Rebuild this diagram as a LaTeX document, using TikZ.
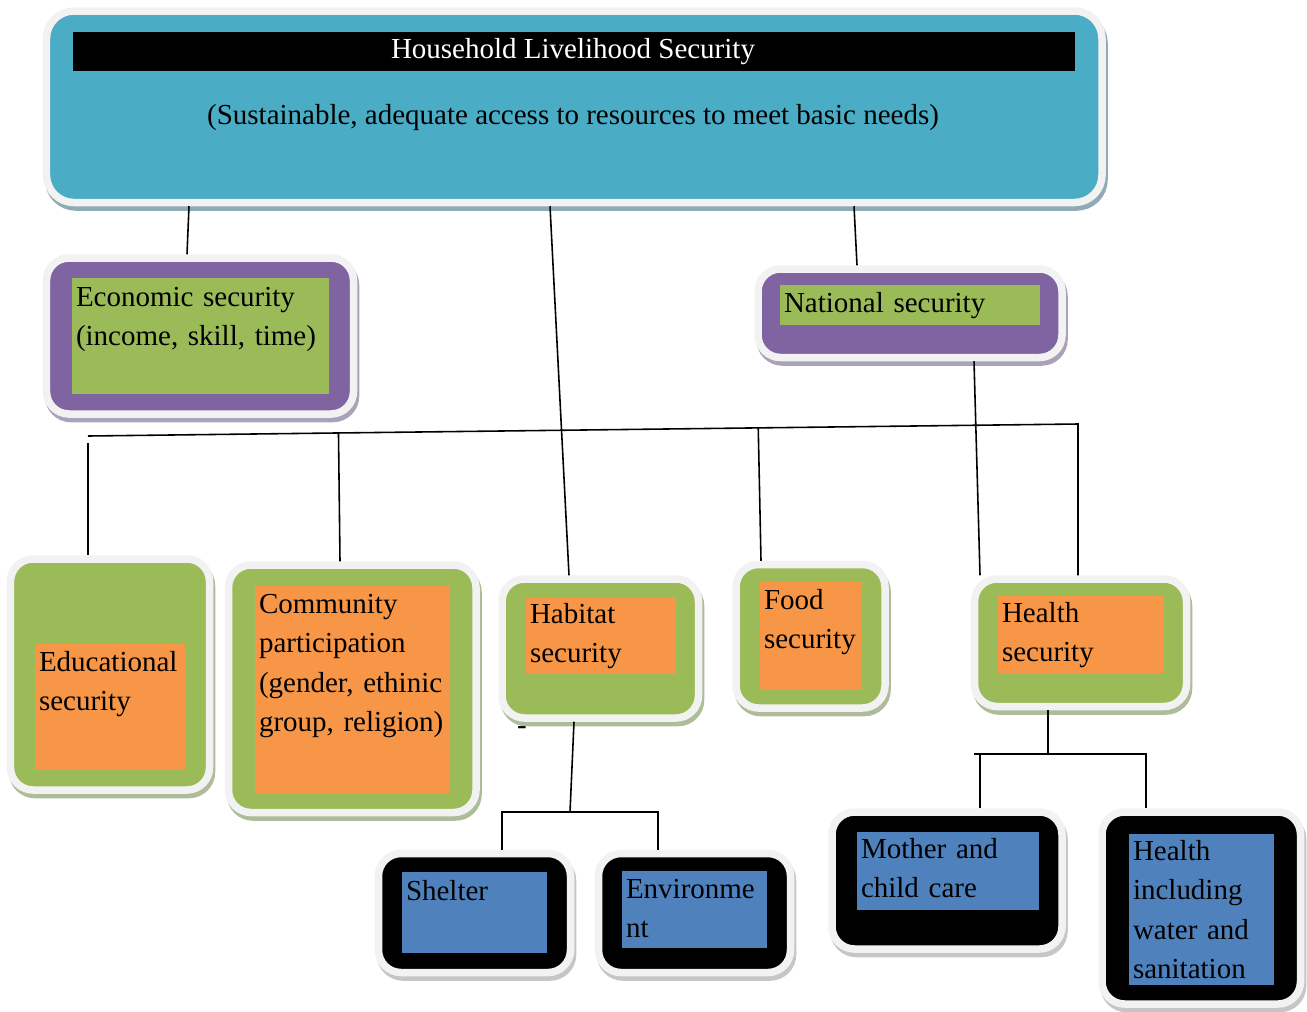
\documentclass[tikz,border=0pt]{standalone}
\usepackage{fontspec}
\setmainfont{Liberation Serif}
\usetikzlibrary{calc,fit}

\definecolor{sky}{HTML}{4BACC6}
\definecolor{purp}{HTML}{8064A2}
\definecolor{leaf}{HTML}{9BBB59}
\definecolor{tang}{HTML}{F79646}
\definecolor{steel}{HTML}{4F81BD}
\definecolor{shell}{HTML}{F2F2F2}
\definecolor{skyshade}{HTML}{8EABB6}
\definecolor{purpshade}{HTML}{A9A2B9}
\definecolor{leafshade}{HTML}{ADBD99}
\definecolor{inkshade}{HTML}{C6C6C6}

\tikzset{
  shellbox/.style={draw=shell, line width=0.15cm, rounded corners=0.45cm, inner sep=0pt,
    preaction={draw=#1, fill=#1, line width=0.15cm, transform canvas={xshift=0.04cm, yshift=-0.09cm}}},
  pad/.style={inner sep=0pt},
  txt/.style={anchor=base west, inner sep=0pt, text width=6cm, align=left},
  link/.style={line width=0.9pt},
  every node/.style={font=\fontsize{16.5}{22.3}\selectfont}
}

\begin{document}
\begin{tikzpicture}[x=0.02cm, y=-0.02cm]
\useasboundingbox (0,0) rectangle (1307,1011);

% household box
\node[shellbox=skyshade, fill=sky, rounded corners=0.55cm, fit={(46.5,11) (1102,202.5)}] (top) {};
\node[pad, fill=black, fit={(73,32) (1075,71)}] (titlebar) {};
\node[anchor=base, text=white] (title) at (573,58) {Household Livelihood Security};
\node[anchor=base] (aim) at (573,124) {(Sustainable, adequate access to resources to meet basic needs)};

% second row
\node[shellbox=purpshade, fill=purp, fit={(46.5,258) (353.5,414)}] (econ) {};
\node[pad, fill=leaf, fit={(72,278) (329,394)}] (econpad) {};
\node[txt] (econtxt) at ($(econpad.north west)+(4,29)$) {Economic security\\(income, skill, time)};

\node[shellbox=purpshade, fill=purp, fit={(758,269) (1062,357.5)}] (national) {};
\node[pad, fill=leaf, fit={(780,285) (1040,325)}] (nationalpad) {};
\node[txt] (nationaltxt) at ($(nationalpad.north west)+(4,28)$) {National security};

% third row
\node[shellbox=leafshade, fill=leaf, fit={(10.5,559) (209.5,790)}] (edu) {};
\node[pad, fill=tang, fit={(35,644) (185,770)}] (edupad) {};
\node[txt] (edutxt) at ($(edupad.north west)+(4,28)$) {Educational\\security};

\node[shellbox=leafshade, fill=leaf, fit={(228.5,565) (476,812.5)}] (comm) {};
\node[pad, fill=tang, fit={(255,586) (450,793)}] (commpad) {};
\node[txt] (commtxt) at ($(commpad.north west)+(4,28)$) {Community\\participation\\(gender, ethinic\\group, religion)};

\node[shellbox=leafshade, fill=leaf, fit={(502,579) (698.5,718)}] (habitat) {};
\node[pad, fill=tang, fit={(526,597) (676,674)}] (habitatpad) {};
\node[txt] (habitattxt) at ($(habitatpad.north west)+(4,27)$) {Habitat\\security};
\node (dash) at (522,731) {-};

\node[shellbox=leafshade, fill=leaf, fit={(736,564.5) (885,708)}] (food) {};
\node[pad, fill=tang, fit={(760,582) (862,690)}] (foodpad) {};
\node[txt] (foodtxt) at ($(foodpad.north west)+(4,28)$) {Food\\security};

\node[shellbox=leafshade, fill=leaf, fit={(974.5,579) (1186.5,706.5)}] (health) {};
\node[pad, fill=tang, fit={(998,596) (1164,673)}] (healthpad) {};
\node[txt] (healthtxt) at ($(healthpad.north west)+(4,27)$) {Health\\security};

% bottom row
\node[shellbox=inkshade, fill=black, fit={(378.5,853.5) (570.5,972.5)}] (shelter) {};
\node[pad, fill=steel, fit={(402,872) (547,953)}] (shelterpad) {};
\node[txt] (sheltertxt) at ($(shelterpad.north west)+(4,29)$) {Shelter};

\node[shellbox=inkshade, fill=black, fit={(598.5,853.5) (790.5,972.5)}] (env) {};
\node[pad, fill=steel, fit={(622,871) (767,948)}] (envpad) {};
\node[txt] (envtxt) at ($(envpad.north west)+(4,28)$) {Environme\\nt};

\node[shellbox=inkshade, fill=black, fit={(832,812) (1062,949)}] (mother) {};
\node[pad, fill=steel, fit={(857,832) (1039,910)}] (motherpad) {};
\node[txt] (mothertxt) at ($(motherpad.north west)+(4,27)$) {Mother and\\child care};

\node[shellbox=inkshade, fill=black, fit={(1102,812) (1300.5,1004)}] (healthinc) {};
\node[pad, fill=steel, fit={(1129,834) (1274,985)}] (healthincpad) {};
\node[txt] (healthinctxt) at ($(healthincpad.north west)+(4,27)$) {Health\\including\\water and\\sanitation};

% connectors
\draw[link] (top.south -| 189,0) -- (econ.north -| 187,0);
\draw[link] (top.south -| 550,0) -- (habitat.north -| 569,0);
\draw[link] (top.south -| 854,0) -- (national.north -| 857,0);
\draw[link] (national.south -| 974,0) -- (health.north -| 980,0);

\coordinate (busl) at (88,436);
\coordinate (busr) at (1078,424);
\draw[link] (busl) -- (busr) -- (health.north -| busr);
\draw[link] ([yshift=-4pt]busl) -- (edu.north -| busl);
\draw[link] ($(busl)!0.253!(busr)$) -- (comm.north -| 340,0);
\draw[link] ($(busl)!0.677!(busr)$) -- (food.north -| 761,0);

\coordinate (hbar) at (570,812);
\draw[link] (habitat.south -| 574,0) -- (hbar);
\draw[link] (shelter.north -| 502,0) |- (hbar) -| (env.north -| 658,0);

\coordinate (sbar) at (1048,754);
\draw[link] (health.south -| sbar) -- (sbar);
\draw[link] (mother.north -| 980,0) -- (sbar -| 980,0);
\draw[link] (sbar -| 974,0) -| (healthinc.north -| 1146,0);
\end{tikzpicture}
\end{document}
